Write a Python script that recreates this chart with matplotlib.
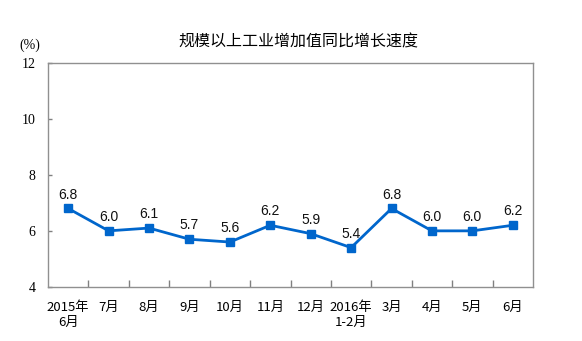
import matplotlib
matplotlib.use("Agg")
import matplotlib.pyplot as plt
from matplotlib.ticker import FixedLocator

categories = ["2015年\n6月", "7月", "8月", "9月", "10月", "11月", "12月",
              "2016年\n1-2月", "3月", "4月", "5月", "6月"]
values = [6.8, 6.0, 6.1, 5.7, 5.6, 6.2, 5.9, 5.4, 6.8, 6.0, 6.0, 6.2]
yticks = [4, 6, 8, 10, 12]
title = "规模以上工业增加值同比增长速度"
unit = "(%)"

cjk = ["Noto Sans CJK SC", "DejaVu Sans"]
serif = ["Liberation Serif", "DejaVu Serif"]

fig = plt.figure(figsize=(5.82, 3.41), dpi=100)
ax = fig.add_axes([0.0825, 0.159, 0.8333, 0.656])

x = list(range(len(values)))
line_color = "#0066CC"
ax.plot(x, values, color=line_color, lw=2, marker="s", ms=6, mec=line_color, mfc=line_color)
for xi, v in zip(x, values):
    ax.annotate(f"{v:.1f}", (xi, v), xytext=(0, 5), textcoords="offset points",
                ha="center", va="bottom", fontsize=10, family=["Liberation Sans", "DejaVu Sans"],
                color="#111111")

ax.set_xlim(-0.5, len(values) - 0.5)
ax.set_ylim(4, 12)
ax.set_yticks(yticks)
ax.set_yticklabels([str(t) for t in yticks], family=serif, fontsize=10)
ax.tick_params(axis="y", length=3, width=1, color="#808080", pad=9, direction="in")

ax.set_xticks(x)
ax.set_xticklabels(categories, family=cjk, fontsize=9.5, linespacing=1.25)
ax.tick_params(axis="x", which="major", length=0, pad=10)
ax.xaxis.set_minor_locator(FixedLocator([i + 0.5 for i in range(len(values) - 1)]))
ax.tick_params(axis="x", which="minor", length=5, width=1, color="#808080", direction="in")

for s in ax.spines.values():
    s.set_color("#909090")
    s.set_linewidth(1)

fig.text(298 / 582, 1 - 42 / 341, title, ha="center", va="center", fontsize=11.5, family=cjk)
fig.text(30 / 582, 1 - 45 / 341, unit, ha="center", va="center", fontsize=10, family=serif)

fig.savefig("out.png", dpi=100)
